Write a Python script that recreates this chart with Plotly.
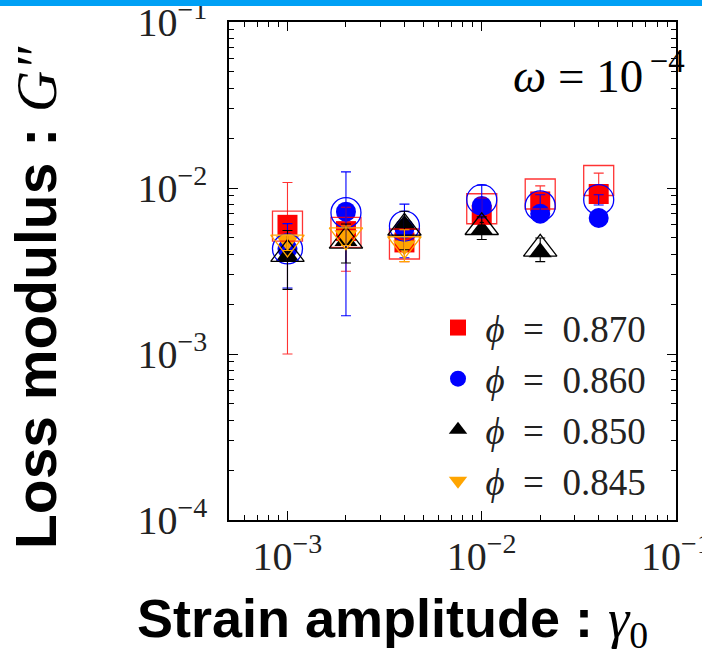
import plotly.graph_objects as go
import numpy as np

# ---- data ----
strain = [1e-3, 2e-3, 4e-3, 1e-2, 2e-2, 4e-2]

phi_values = ["0.870", "0.860", "0.850", "0.845"]
labels = ["\u2009<i>ϕ</i>\u2002=\u2002" + p for p in phi_values]
colors = ["#FF0000", "#0000FF", "#000000", "#FFA500"]
open_colors = ["rgba(255,0,0,0.8)", "#0000FF", "#000000", "#FFA500"]
symbols = ["square", "circle", "triangle-up", "triangle-down"]

# filled markers
g_870 = [6.0e-3, 5.5e-3, 4.7e-3, 6.9e-3, 8.3e-3, 9.2e-3]
g_860 = [4.3e-3, 7.2e-3, 5.7e-3, 7.8e-3, 7.0e-3, 6.6e-3]
g_850 = [3.9e-3, 4.8e-3, 6.0e-3, 5.6e-3, 4.1e-3]
g_845 = [4.8e-3, 5.2e-3, 4.5e-3]

# open markers (averages) with error bars
m_870 = [5.9e-3, 5.4e-3, 4.6e-3, 7.5e-3, 9.2e-3, 1.11e-2]
e_870 = [4.9e-3, 2.25e-3, 1.0e-3, 1.2e-3, 1.1e-3, 1.2e-3]
m_860 = [4.3e-3, 7.1e-3, 5.9e-3, 8.5e-3, 7.8e-3, 8.5e-3]
e_860 = [1.8e-3, 5.4e-3, 2.1e-3, 1.9e-3, 1.3e-3, 0.6e-3]
m_850 = [4.0e-3, 4.8e-3, 5.75e-3, 5.8e-3, 4.3e-3]
e_850 = [1.55e-3, 1.27e-3, 1.5e-3, 0.9e-3, 0.7e-3]
m_845 = [4.7e-3, 5.2e-3, 4.6e-3]
e_845 = [0.5e-3, 0.7e-3, 1.0e-3]

filled = [g_870, g_860, g_850, g_845]
means = [m_870, m_860, m_850, m_845]
errs = [e_870, e_860, e_850, e_845]

x_ticks = [1e-3, 1e-2, 1e-1]
x_ticktext = ["10<sup>−3</sup>", "10<sup>−2</sup>", "10<sup>−1</sup>"]
y_ticks = [1e-4, 1e-3, 1e-2, 1e-1]
y_ticktext = ["10<sup>−4</sup>", "10<sup>−3</sup>", "10<sup>−2</sup>", "10<sup>−1</sup>"]

x_minor = [m * 10.0 ** e for e in (-4, -3, -2) for m in range(2, 10)]
y_minor = [m * 10.0 ** e for e in (-4, -3, -2) for m in range(2, 10)]

SERIF = "Liberation Serif"
SANS = "Liberation Sans"

fig = go.Figure()

# filled markers (legend)
for lab, col, sym, vals in zip(labels, colors, symbols, filled):
    fig.add_trace(go.Scatter(
        x=strain[:len(vals)], y=vals, mode="markers", name=lab,
        marker=dict(symbol=sym, size=20, color=col, line=dict(width=0)),
    ))

# open markers with error bars
for col, sym, vals, ev in zip(open_colors, symbols, means, errs):
    sz = 30 if sym in ("square", "circle") else 29
    fig.add_trace(go.Scatter(
        x=strain[:len(vals)], y=vals, mode="markers", showlegend=False,
        marker=dict(symbol=sym + "-open", size=sz, color=col, line=dict(width=1.3, color=col)),
        error_y=dict(type="data", array=ev, visible=True, color=col, thickness=1.1, width=5),
    ))

axis_common = dict(
    type="log", showgrid=False, zeroline=False, automargin=False,
    showline=True, linecolor="black", linewidth=1.5, mirror="allticks",
    ticks="inside", ticklen=9, tickwidth=1.2, tickcolor="black",
    tickmode="array", ticklabeloverflow="allow",
    tickfont=dict(family=SERIF, size=40, color="#222"),
    minor=dict(ticks="inside", ticklen=5, tickwidth=1, tickcolor="black", showgrid=False),
)

fig.update_xaxes(range=[np.log10(5e-4), -1], tickvals=x_ticks, ticktext=x_ticktext,
                 ticklabelstandoff=0, **axis_common)
fig.update_xaxes(minor_tickvals=x_minor)
fig.update_yaxes(range=[-4, -1], tickvals=y_ticks, ticktext=y_ticktext,
                 ticklabelstandoff=12, **axis_common)
fig.update_yaxes(minor_tickvals=y_minor)

# top banner fragment
fig.add_shape(type="rect", xref="paper", yref="paper", x0=-0.6, x1=1.2,
              ysizemode="pixel", yanchor=1, y0=16, y1=40,
              fillcolor="#00A0F5", line=dict(width=0), layer="above")

fig.add_annotation(
    text="<b>Loss modulus : </b><span style='font-family:Liberation Serif'><i>G″</i></span>",
    xref="paper", yref="paper", x=(36 - 229) / 447, y=(520 - 298) / 498,
    textangle=-90, showarrow=False, font=dict(family=SANS, size=57, color="black"),
    xanchor="center", yanchor="middle",
)
fig.add_annotation(
    text="<b>Strain amplitude : </b><span style='font-family:Liberation Serif'><i>γ</i><sub>0</sub></span>",
    xref="paper", yref="paper", x=(392 - 229) / 447, y=(520 - 622) / 498,
    showarrow=False, font=dict(family=SANS, size=54, color="black"),
    xanchor="center", yanchor="middle",
)
fig.add_annotation(
    text="<i>ω</i> = 10<sup>\u2009−4</sup>",
    xref="paper", yref="paper", x=(511 - 229) / 447, y=(520 - 72) / 498,
    showarrow=False, font=dict(family=SERIF, size=47, color="black"),
    xanchor="left", yanchor="middle",
)

fig.update_layout(
    width=702, height=656,
    margin=dict(l=229, r=26, t=22, b=136),
    paper_bgcolor="white", plot_bgcolor="white",
    showlegend=True,
    legend=dict(x=(438 - 229) / 447, y=(520 - 297) / 498, xanchor="left", yanchor="top",
                font=dict(family=SERIF, size=37, color="#222"), bgcolor="rgba(0,0,0,0)",
                itemsizing="trace", tracegroupgap=0),
)

fig.write_html("out.html")
